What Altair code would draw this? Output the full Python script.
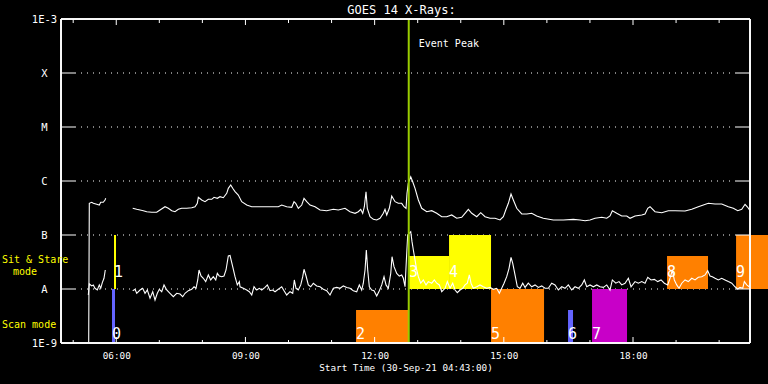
import altair as alt
import pandas as pd

# ---------------- data ----------------
# time axis: hours of day (UT) on 30-Sep-21; plot runs 04:43 -> 20:43
X_START, X_END = 4.7167, 20.7167

# GOES long channel (1-8 A), W/m^2
long_t = [5.360, 5.374, 5.430, 5.467, 5.546, 5.606, 5.639, 5.699, 5.739, 5.755,
          6.382, 6.475, 6.552, 6.628, 6.707, 6.823, 6.939, 7.016, 7.132, 7.209,
          7.288, 7.364, 7.441, 7.520, 7.636, 7.752, 7.829, 7.882, 7.906, 7.984,
          8.061, 8.138, 8.217, 8.270, 8.347, 8.409, 8.486, 8.565, 8.602, 8.658,
          8.704, 8.758, 8.834, 8.913, 9.030, 9.146, 9.338, 9.571, 9.763, 9.842,
          9.958, 10.075, 10.128, 10.167, 10.228, 10.307, 10.360, 10.423, 10.500, 10.616,
          10.732, 10.887, 11.041, 11.157, 11.312, 11.428, 11.545, 11.621, 11.677, 11.723,
          11.761, 11.800, 11.830, 11.893, 11.970, 12.048, 12.125, 12.202, 12.241, 12.281,
          12.341, 12.397, 12.474, 12.550, 12.629, 12.682, 12.729, 12.752, 12.782, 12.838,
          12.884, 12.938, 13.015, 13.093, 13.210, 13.326, 13.442, 13.558, 13.674, 13.790,
          13.906, 14.022, 14.099, 14.176, 14.255, 14.371, 14.464, 14.564, 14.680, 14.796,
          14.912, 14.989, 15.051, 15.105, 15.167, 15.221, 15.300, 15.416, 15.532, 15.648,
          15.764, 15.917, 16.150, 16.382, 16.614, 16.770, 16.886, 17.002, 17.118, 17.274,
          17.390, 17.466, 17.520, 17.622, 17.738, 17.854, 17.931, 18.047, 18.203, 18.279,
          18.342, 18.395, 18.511, 18.667, 18.820, 18.976, 19.208, 19.364, 19.517, 19.633,
          19.749, 19.905, 20.060, 20.214, 20.330, 20.432, 20.525, 20.602, 20.664, 20.717]
long_f = [1.0e-9, 3.86e-7, 4.03e-7, 3.86e-7, 3.70e-7, 3.59e-7, 4.03e-7, 4.03e-7, 4.45e-7, 4.78e-7,
          3.12e-7, 2.99e-7, 2.90e-7, 2.82e-7, 2.70e-7, 2.63e-7, 2.63e-7, 2.90e-7, 3.34e-7, 3.12e-7,
          2.82e-7, 2.70e-7, 2.99e-7, 3.12e-7, 3.12e-7, 3.20e-7, 3.34e-7, 3.86e-7, 4.99e-7, 4.45e-7,
          4.14e-7, 4.58e-7, 4.58e-7, 4.99e-7, 4.78e-7, 5.12e-7, 4.90e-7, 5.92e-7, 7.32e-7, 8.43e-7,
          7.32e-7, 6.34e-7, 5.50e-7, 4.14e-7, 3.59e-7, 3.34e-7, 3.34e-7, 3.34e-7, 3.34e-7, 3.59e-7,
          3.34e-7, 3.26e-7, 4.14e-7, 3.86e-7, 3.12e-7, 3.59e-7, 4.78e-7, 4.14e-7, 3.59e-7, 3.34e-7,
          2.90e-7, 2.82e-7, 2.99e-7, 2.90e-7, 3.12e-7, 2.70e-7, 2.52e-7, 2.70e-7, 2.99e-7, 2.52e-7,
          3.34e-7, 6.34e-7, 3.12e-7, 2.18e-7, 1.95e-7, 1.90e-7, 2.04e-7, 2.52e-7, 2.99e-7, 2.35e-7,
          3.12e-7, 5.27e-7, 4.14e-7, 3.86e-7, 3.86e-7, 3.34e-7, 3.12e-7, 5.92e-7, 9.07e-7, 1.20e-6,
          9.70e-7, 7.32e-7, 4.45e-7, 3.12e-7, 2.70e-7, 2.82e-7, 2.52e-7, 2.18e-7, 2.18e-7, 2.35e-7,
          2.04e-7, 2.13e-7, 2.52e-7, 2.99e-7, 2.52e-7, 2.18e-7, 2.59e-7, 2.18e-7, 2.04e-7, 2.04e-7,
          1.90e-7, 2.18e-7, 2.99e-7, 3.86e-7, 5.74e-7, 4.45e-7, 3.12e-7, 2.45e-7, 2.45e-7, 2.52e-7,
          2.25e-7, 2.04e-7, 1.90e-7, 1.90e-7, 1.95e-7, 1.90e-7, 1.84e-7, 1.90e-7, 2.04e-7, 2.13e-7,
          2.04e-7, 2.25e-7, 2.82e-7, 2.52e-7, 2.25e-7, 2.25e-7, 2.04e-7, 2.25e-7, 2.35e-7, 2.45e-7,
          3.12e-7, 3.34e-7, 2.70e-7, 2.59e-7, 2.82e-7, 2.82e-7, 2.78e-7, 2.99e-7, 3.34e-7, 3.59e-7,
          3.86e-7, 3.75e-7, 3.75e-7, 3.34e-7, 3.12e-7, 2.82e-7, 2.99e-7, 3.70e-7, 3.26e-7, 2.82e-7]

# GOES short channel (0.5-4 A), W/m^2
short_t = [5.351, 5.374, 5.430, 5.467, 5.506, 5.560, 5.606, 5.639, 5.676, 5.715, 5.745,
           6.382, 6.436, 6.475, 6.552, 6.614, 6.668, 6.721, 6.784, 6.847, 6.900,
           6.953, 7.000, 7.056, 7.109, 7.172, 7.248, 7.325, 7.404, 7.481, 7.543,
           7.597, 7.673, 7.752, 7.806, 7.852, 7.892, 7.922, 7.968, 8.022, 8.077,
           8.138, 8.193, 8.254, 8.310, 8.347, 8.393, 8.449, 8.502, 8.549, 8.602,
           8.642, 8.704, 8.758, 8.811, 8.858, 8.874, 8.951, 9.030, 9.090, 9.146,
           9.199, 9.262, 9.322, 9.378, 9.454, 9.508, 9.571, 9.633, 9.687, 9.763,
           9.842, 9.896, 9.958, 10.035, 10.098, 10.135, 10.174, 10.228, 10.284, 10.330,
           10.360, 10.407, 10.460, 10.516, 10.576, 10.655, 10.732, 10.808, 10.887, 10.964,
           11.041, 11.120, 11.196, 11.273, 11.352, 11.428, 11.505, 11.584, 11.644, 11.700,
           11.737, 11.777, 11.807, 11.839, 11.877, 11.932, 11.986, 12.048, 12.109, 12.165,
           12.218, 12.264, 12.318, 12.374, 12.404, 12.450, 12.513, 12.573, 12.629, 12.666,
           12.706, 12.745, 12.768, 12.838, 12.868, 12.899, 12.938, 12.977, 13.015, 13.070,
           13.131, 13.193, 13.247, 13.326, 13.386, 13.442, 13.502, 13.558, 13.635, 13.688,
           13.751, 13.813, 13.867, 13.920, 13.983, 14.046, 14.099, 14.152, 14.199, 14.238,
           14.292, 14.371, 14.447, 14.524, 14.603, 14.680, 14.756, 14.835, 14.896, 14.951,
           15.005, 15.067, 15.121, 15.167, 15.207, 15.260, 15.314, 15.376, 15.439, 15.493,
           15.569, 15.648, 15.725, 15.801, 15.880, 15.957, 16.034, 16.112, 16.189, 16.266,
           16.345, 16.421, 16.498, 16.577, 16.654, 16.730, 16.809, 16.870, 16.925, 17.002,
           17.079, 17.158, 17.234, 17.311, 17.390, 17.466, 17.520, 17.599, 17.675, 17.738,
           17.815, 17.892, 17.954, 18.047, 18.124, 18.203, 18.279, 18.342, 18.419, 18.495,
           18.574, 18.651, 18.727, 18.806, 18.860, 18.913, 18.960, 19.015, 19.069, 19.132,
           19.208, 19.285, 19.364, 19.440, 19.517, 19.596, 19.673, 19.735, 19.789, 19.842,
           19.905, 19.981, 20.060, 20.137, 20.214, 20.293, 20.369, 20.432, 20.485, 20.548,
           20.585, 20.641, 20.694, 20.717]
short_f = [7.74e-9, 1.24e-8, 1.14e-8, 1.19e-8, 1.03e-8, 9.58e-9, 1.19e-8, 1.03e-8, 1.31e-8, 1.58e-8, 2.25e-8,
           9.31e-9, 9.87e-9, 8.32e-9, 9.58e-9, 1.03e-8, 8.32e-9, 9.58e-9, 6.73e-9, 8.91e-9, 6.25e-9,
           8.32e-9, 9.87e-9, 8.91e-9, 1.19e-8, 9.58e-9, 8.32e-9, 7.20e-9, 8.32e-9, 8.08e-9, 7.20e-9,
           8.32e-9, 9.31e-9, 9.87e-9, 1.10e-8, 1.03e-8, 1.47e-8, 2.25e-8, 1.74e-8, 1.58e-8, 1.37e-8,
           1.82e-8, 1.47e-8, 1.69e-8, 1.47e-8, 1.95e-8, 1.74e-8, 1.69e-8, 1.74e-8, 2.25e-8, 4.08e-8,
           4.17e-8, 2.59e-8, 1.69e-8, 1.19e-8, 1.37e-8, 1.10e-8, 1.03e-8, 9.58e-9, 8.91e-9, 7.74e-9,
           1.10e-8, 9.58e-9, 1.03e-8, 9.58e-9, 1.07e-8, 1.19e-8, 9.31e-9, 9.58e-9, 8.91e-9, 9.87e-9,
           1.10e-8, 9.31e-9, 7.74e-9, 8.91e-9, 8.32e-9, 1.47e-8, 1.03e-8, 9.58e-9, 1.19e-8, 1.69e-8,
           2.32e-8, 1.74e-8, 1.19e-8, 1.10e-8, 1.28e-8, 1.14e-8, 1.10e-8, 9.87e-9, 9.31e-9, 7.74e-9,
           1.03e-8, 1.07e-8, 1.03e-8, 1.14e-8, 1.07e-8, 1.03e-8, 9.31e-9, 8.91e-9, 1.19e-8, 9.58e-9,
           1.28e-8, 2.25e-8, 5.27e-8, 2.25e-8, 1.10e-8, 9.58e-9, 9.31e-9, 7.42e-9, 9.31e-9, 1.19e-8,
           1.69e-8, 1.19e-8, 1.03e-8, 1.95e-8, 3.96e-8, 2.59e-8, 1.95e-8, 1.74e-8, 1.82e-8, 1.58e-8,
           1.10e-8, 4.58e-8, 1.00e-7, 1.15e-7, 7.52e-8, 5.27e-8, 3.45e-8, 2.25e-8, 1.69e-8, 1.28e-8,
           1.47e-8, 1.19e-8, 1.37e-8, 1.28e-8, 1.47e-8, 1.28e-8, 1.19e-8, 8.91e-9, 1.03e-8, 1.37e-8,
           1.03e-8, 1.28e-8, 9.58e-9, 8.54e-9, 9.58e-9, 1.03e-8, 1.19e-8, 1.28e-8, 1.82e-8, 1.28e-8,
           1.03e-8, 1.10e-8, 1.19e-8, 1.10e-8, 1.03e-8, 1.07e-8, 9.87e-9, 1.03e-8, 8.32e-9, 1.03e-8,
           1.28e-8, 1.69e-8, 2.42e-8, 3.86e-8, 2.99e-8, 1.82e-8, 1.10e-8, 1.03e-8, 1.28e-8, 1.07e-8,
           1.28e-8, 1.10e-8, 1.19e-8, 1.07e-8, 1.14e-8, 1.03e-8, 1.03e-8, 1.28e-8, 1.19e-8, 9.58e-9,
           1.10e-8, 1.03e-8, 1.19e-8, 9.58e-9, 1.10e-8, 1.03e-8, 1.19e-8, 1.47e-8, 1.10e-8, 1.19e-8,
           1.10e-8, 1.19e-8, 1.10e-8, 1.07e-8, 1.19e-8, 9.58e-9, 1.47e-8, 1.28e-8, 1.37e-8, 1.19e-8,
           1.28e-8, 1.58e-8, 1.10e-8, 1.37e-8, 1.28e-8, 1.37e-8, 1.28e-8, 1.65e-8, 1.47e-8, 1.51e-8,
           1.37e-8, 1.47e-8, 1.28e-8, 1.19e-8, 1.58e-8, 2.25e-8, 1.47e-8, 1.19e-8, 1.03e-8, 1.28e-8,
           1.47e-8, 1.37e-8, 1.58e-8, 1.47e-8, 1.65e-8, 1.69e-8, 1.82e-8, 2.18e-8, 1.74e-8, 1.69e-8,
           1.58e-8, 1.47e-8, 1.58e-8, 1.47e-8, 1.37e-8, 1.28e-8, 1.10e-8, 1.00e-8, 1.07e-8, 1.03e-8,
           1.37e-8, 1.19e-8, 1.10e-8, 1.19e-8]

DATA_GAP_END = 6.0  # no data between ~05:45 and ~06:23

# observing-mode blocks
block_id = ["0", "1", "2", "3", "4", "5", "6", "7", "8", "9"]
block_start = [5.901, 5.948, 11.568, 12.799, 13.728, 14.703, 16.491, 17.048, 18.790, 20.393]
block_end = [5.971, 5.994, 12.775, 13.728, 14.703, 15.934, 16.607, 17.861, 19.742, 21.300]
block_low = [1e-9, 1e-8, 1e-9, 1e-8, 1e-8, 1e-9, 1e-9, 1e-9, 1e-8, 1e-8]
block_high = [1e-8, 1e-7, 4.08e-9, 4.08e-8, 1e-7, 1e-8, 4.08e-9, 1e-8, 4.08e-8, 1e-7]
block_mode = ["scan", "sit", "scan", "sit", "sit", "scan", "scan", "scan", "sit", "sit"]
block_kind = ["K1", "K2", "K3", "K2", "K2", "K3", "K1", "K4", "K3", "K3"]

EVENT_PEAK = 12.792

x_tick_values = [6, 9, 12, 15, 18]
x_tick_labels = ["06:00", "09:00", "12:00", "15:00", "18:00"]
minor_hours = list(range(5, 21))
y_tick_values = [1e-9, 1e-8, 1e-7, 1e-6, 1e-5, 1e-4, 1e-3]
y_tick_labels = ["1E-9", "A", "B", "C", "M", "X", "1E-3"]
class_levels = [1e-8, 1e-7, 1e-6, 1e-5, 1e-4]

TITLE = "GOES 14 X-Rays:"
side_labels = ["Sit & Stare", "mode", "Scan mode"]
side_label_flux = [2.99e-8, 1.82e-8, 1.92e-9]
event_label_flux = 3.07e-4

# ---------------- frames ----------------
curve = pd.DataFrame({
    "t": long_t + short_t,
    "f": long_f + short_f,
    "ch": ["long"] * len(long_t) + ["short"] * len(short_t),
})
curve["key"] = curve["ch"] + (curve["t"] > DATA_GAP_END).map({True: "-b", False: "-a"})

blocks = pd.DataFrame({"id": block_id, "t0": block_start, "t1": block_end,
                       "lo": block_low, "hi": block_high, "mode": block_mode,
                       "kind": block_kind})
levels = pd.DataFrame({"f": class_levels})
hours = pd.DataFrame({"h": minor_hours})
hours["major"] = hours["h"] % 3 == 0
peak = pd.DataFrame({"t": [EVENT_PEAK], "f": [event_label_flux], "txt": ["Event Peak"]})
side = pd.DataFrame({"txt": side_labels, "f": side_label_flux})
title_df = pd.DataFrame({"txt": [TITLE]})

# ---------------- style ----------------
W, H = 689, 324
MONO = "DejaVu Sans Mono"
WHITE = "white"


def label_expr(values, labels, log=False):
    expr = "'%s'" % labels[-1]
    for v, lab in zip(values[-2::-1], labels[-2::-1]):
        thr = v * 3.0 if log else v + 0.5
        expr = "datum.value < %r ? '%s' : (%s)" % (thr, lab, expr)
    return expr


x_scale = alt.Scale(domain=[X_START, X_END], nice=False, zero=False)
y_scale = alt.Scale(type="log", domain=[1e-9, 1e-3], nice=False)

x_axis = alt.Axis(values=x_tick_values, labelExpr=label_expr(x_tick_values, x_tick_labels),
                  ticks=False, domain=False, grid=False, labelColor=WHITE, labelFont=MONO,
                  labelFontSize=9.3, labelPadding=8, title="Start Time (30-Sep-21 04:43:00)",
                  titleColor=WHITE, titleFont=MONO, titleFontSize=9.3, titleFontWeight="normal",
                  titlePadding=3)
y_axis = alt.Axis(values=y_tick_values, labelExpr=label_expr(y_tick_values, y_tick_labels, log=True),
                  ticks=False, domain=False, grid=False, labelColor=WHITE, labelFont=MONO,
                  labelFontSize=10.5, labelAlign="center", labelBaseline="middle", labelFlush=True,
                  labelPadding=17, title=None)


def X(field):
    return alt.X(field, type="quantitative", scale=x_scale, axis=x_axis)


def Y(field):
    return alt.Y(field, type="quantitative", scale=y_scale, axis=y_axis)


grid = alt.Chart(levels).mark_rule(color=WHITE, strokeDash=[1, 5], strokeWidth=1).encode(
    y=Y("f"), x=alt.value(14), x2=alt.value(W - 14))

rects = alt.Chart(blocks).mark_rect().encode(
    x=X("t0"), x2="t1", y=Y("lo"), y2="hi",
    color=alt.Color("kind:N", legend=None,
                    scale=alt.Scale(domain=["K1", "K2", "K3", "K4"],
                                    range=["#6464ff", "#ffff00", "#ff8000", "#c800c8"])))

scan_lbl = alt.Chart(blocks).transform_filter("datum.mode == 'scan'").mark_text(
    color=WHITE, font=MONO, fontSize=15, align="left", baseline="alphabetic", dy=-4).encode(
    x=X("t0"), y=Y("lo"), text="id:N")
sit_lbl = alt.Chart(blocks).transform_filter("datum.mode == 'sit'").mark_text(
    color=WHITE, font=MONO, fontSize=15, align="left", baseline="alphabetic", dy=-12).encode(
    x=X("t0"), y=Y("lo"), text="id:N")

lines = alt.Chart(curve).mark_line(color=WHITE, strokeWidth=1.1).encode(
    x=X("t"), y=Y("f"), detail="key:N")

peak_rule = alt.Chart(peak).mark_rule(color="#99cc00", strokeWidth=2).encode(x=X("t"))
peak_txt = alt.Chart(peak).mark_text(color=WHITE, font=MONO, fontSize=10, align="left",
                                     baseline="alphabetic", dx=10).encode(
    x=X("t"), y=Y("f"), text="txt:N")

tick_l = alt.Chart(levels).mark_rule(color=WHITE).encode(y=Y("f"), x=alt.value(0), x2=alt.value(14))
tick_r = alt.Chart(levels).mark_rule(color=WHITE).encode(y=Y("f"), x=alt.value(W - 14), x2=alt.value(W))

top_major = alt.Chart(hours).transform_filter("datum.major").mark_rule(color=WHITE).encode(
    x=X("h"), y=alt.value(0), y2=alt.value(6))
top_minor = alt.Chart(hours).transform_filter("!datum.major").mark_rule(color=WHITE).encode(
    x=X("h"), y=alt.value(0), y2=alt.value(4))
bot_major = alt.Chart(hours).transform_filter("datum.major").mark_rule(color=WHITE).encode(
    x=X("h"), y=alt.value(H), y2=alt.value(H - 6))
bot_minor = alt.Chart(hours).transform_filter("!datum.major").mark_rule(color=WHITE).encode(
    x=X("h"), y=alt.value(H), y2=alt.value(H - 3))

frame = [
    alt.Chart(levels).mark_rule(color=WHITE).encode(x=alt.value(0), x2=alt.value(W), y=alt.value(0)),
    alt.Chart(levels).mark_rule(color=WHITE).encode(x=alt.value(0), x2=alt.value(W), y=alt.value(H)),
    alt.Chart(levels).mark_rule(color=WHITE).encode(y=alt.value(0), y2=alt.value(H), x=alt.value(0)),
    alt.Chart(levels).mark_rule(color=WHITE).encode(y=alt.value(0), y2=alt.value(H), x=alt.value(W)),
]

side_a = alt.Chart(side).transform_filter("datum.txt != 'mode'").mark_text(
    color="#ffff00", font=MONO, fontSize=10, align="left", baseline="alphabetic").encode(
    x=alt.value(-59), y=Y("f"), text="txt:N")
side_b = alt.Chart(side).transform_filter("datum.txt == 'mode'").mark_text(
    color="#ffff00", font=MONO, fontSize=10, align="left", baseline="alphabetic").encode(
    x=alt.value(-48), y=Y("f"), text="txt:N")

title_txt = alt.Chart(title_df).mark_text(
    color=WHITE, font=MONO, fontSize=12, align="center", baseline="alphabetic").encode(
    x=alt.value(W / 2 - 4), y=alt.value(-5), text="txt:N")

chart = alt.layer(
    grid, rects, scan_lbl, sit_lbl, lines, peak_rule, peak_txt,
    tick_l, tick_r, top_major, top_minor, bot_major, bot_minor, *frame, side_a, side_b, title_txt,
).properties(
    width=W, height=H, autosize="none",
    padding={"left": 61, "top": 19, "right": 18, "bottom": 41},
).configure(background="black").configure_view(stroke=None)

chart.save("out.html", embed_options={"renderer": "svg", "actions": False})
